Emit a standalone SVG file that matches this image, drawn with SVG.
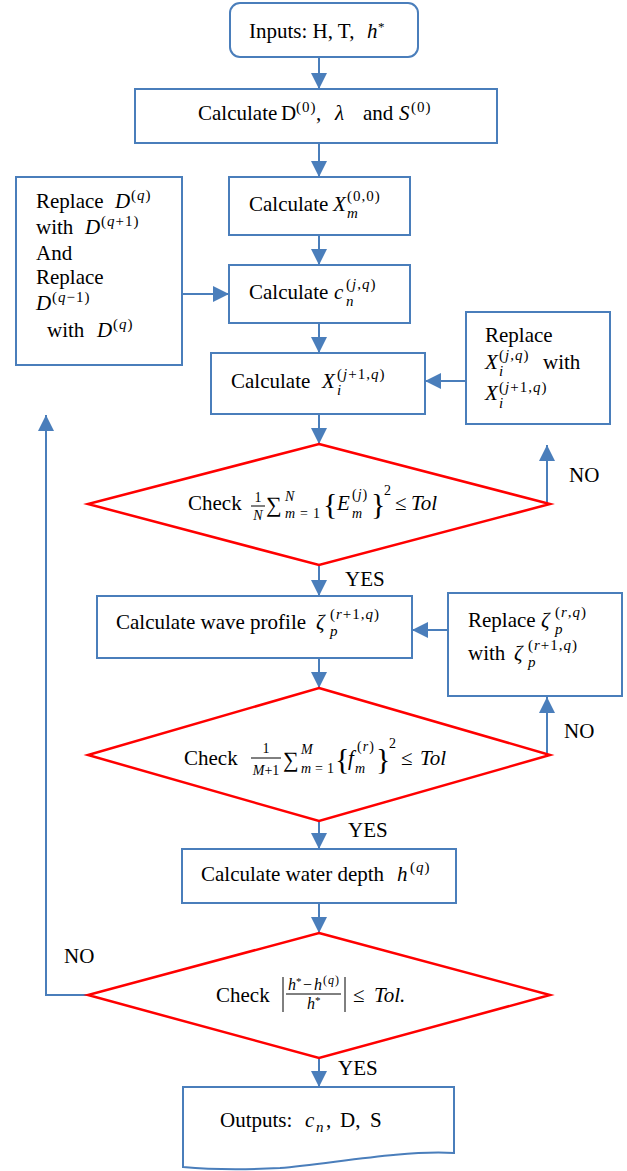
<svg xmlns="http://www.w3.org/2000/svg" width="627" height="1171" viewBox="0 0 627 1171">
<defs>
<marker id="ah" markerUnits="userSpaceOnUse" markerWidth="16" markerHeight="16" refX="16" refY="8" orient="auto">
<path d="M0,0 L16,8 L0,16 z" fill="#4A7EBB"/>
</marker>
<style>
.box{fill:#fff;stroke:#4A7EBB;stroke-width:2}
.dia{fill:#fff;stroke:#FF0000;stroke-width:2.5}
.arr{fill:none;stroke:#4A7EBB;stroke-width:2;marker-end:url(#ah)}
.t{font-family:"Liberation Serif","Times New Roman",serif;font-size:21px;fill:#000}
.i{font-style:italic}
.s{font-size:15px;letter-spacing:1px}
.xs{font-size:14px}
.sg{font-size:22px}
.br{font-size:30px}
.bar{stroke:#000;stroke-width:1}
</style>
</defs>
<rect width="627" height="1171" fill="#fff"/>

<g id="connectors">
<line class="arr" x1="319" y1="57" x2="319" y2="89"/>
<line class="arr" x1="319" y1="143" x2="319" y2="177"/>
<line class="arr" x1="319" y1="235" x2="319" y2="265"/>
<line class="arr" x1="319" y1="323" x2="319" y2="353"/>
<line class="arr" x1="319" y1="414" x2="319" y2="444"/>
<line class="arr" x1="319" y1="565" x2="319" y2="596"/>
<line class="arr" x1="319" y1="658" x2="319" y2="688"/>
<line class="arr" x1="319" y1="821" x2="319" y2="849"/>
<line class="arr" x1="319" y1="903" x2="319" y2="933"/>
<line class="arr" x1="319" y1="1058" x2="319" y2="1087"/>
<line class="arr" x1="182" y1="294" x2="229" y2="294"/>
<line class="arr" x1="466" y1="381" x2="425" y2="381"/>
<line class="arr" x1="448" y1="630" x2="412" y2="630"/>
<line class="arr" x1="547" y1="504" x2="547" y2="445"/>
<line class="arr" x1="547" y1="755" x2="547" y2="697"/>
<polyline class="arr" points="88,995 46,995 46,415"/>
<text class="t" x="569" y="482">NO</text>
<text class="t" x="345" y="586">YES</text>
<text class="t" x="564" y="738">NO</text>
<text class="t" x="348" y="837">YES</text>
<text class="t" x="64" y="963">NO</text>
<text class="t" x="338" y="1075">YES</text>
</g>

<g id="inputs">
<rect class="box" x="230" y="3" width="188" height="54" rx="10"/>
<text class="t" x="249" y="38">Inputs: H, T,</text>
<text class="t i" x="367" y="38">h</text>
<text class="t" x="378" y="31" style="font-size:13px">*</text>
</g>

<g id="calc-d">
<rect class="box" x="135" y="89" width="362" height="54"/>
<text class="t" x="198" y="120">Calculate</text>
<text class="t" x="281" y="120">D</text>
<text class="t s" x="296" y="112">(0)</text>
<text class="t" x="316" y="120">,</text>
<text class="t i" x="335" y="120">λ</text>
<text class="t" x="363" y="120">and</text>
<text class="t i" x="399" y="120">S</text>
<text class="t s" x="411" y="112">(0)</text>
</g>

<g id="calc-xm">
<rect class="box" x="229" y="177" width="181" height="58"/>
<text class="t" x="249" y="211">Calculate</text>
<text class="t i" x="333" y="211">X</text>
<text class="t s" x="347" y="201">(0,0)</text>
<text class="t s i" x="347" y="218">m</text>
</g>

<g id="calc-cn">
<rect class="box" x="229" y="265" width="181" height="58"/>
<text class="t" x="249" y="299">Calculate</text>
<text class="t i" x="334" y="299">c</text>
<text class="t s" x="346" y="289">(<tspan class="i">j</tspan>,<tspan class="i">q</tspan>)</text>
<text class="t s i" x="346" y="306">n</text>
</g>

<g id="replace-d">
<rect class="box" x="16" y="177" width="166" height="188"/>
<text class="t" x="36" y="208">Replace</text>
<text class="t i" x="115" y="208">D</text>
<text class="t s" x="131" y="200">(<tspan class="i">q</tspan>)</text>
<text class="t" x="36" y="234">with</text>
<text class="t i" x="85" y="234">D</text>
<text class="t s" x="101" y="226">(<tspan class="i">q</tspan>+1)</text>
<text class="t" x="36" y="260">And</text>
<text class="t" x="36" y="284">Replace</text>
<text class="t i" x="36" y="310">D</text>
<text class="t s" x="52" y="302">(<tspan class="i">q</tspan>−1)</text>
<text class="t" x="47" y="337">with</text>
<text class="t i" x="97" y="337">D</text>
<text class="t s" x="113" y="329">(<tspan class="i">q</tspan>)</text>
</g>

<g id="calc-xi">
<rect class="box" x="211" y="353" width="214" height="61"/>
<text class="t" x="231" y="388">Calculate</text>
<text class="t i" x="322" y="388">X</text>
<text class="t s" x="337" y="379">(<tspan class="i">j</tspan>+1,<tspan class="i">q</tspan>)</text>
<text class="t s i" x="337" y="395">i</text>
</g>

<g id="replace-x">
<rect class="box" x="466" y="312" width="144" height="112"/>
<text class="t" x="485" y="342">Replace</text>
<text class="t i" x="485" y="369">X</text>
<text class="t s" x="499" y="360">(<tspan class="i">j</tspan>,<tspan class="i">q</tspan>)</text>
<text class="t s i" x="499" y="376">i</text>
<text class="t" x="543" y="369">with</text>
<text class="t i" x="485" y="400">X</text>
<text class="t s" x="499" y="392">(<tspan class="i">j</tspan>+1,<tspan class="i">q</tspan>)</text>
<text class="t s i" x="499" y="408">i</text>
</g>

<g id="check-e">
<polygon class="dia" points="319,444 550,504 319,565 88,504"/>
<text class="t" x="188" y="510">Check</text>
<text class="t xs" x="258" y="502" text-anchor="middle">1</text>
<line class="bar" x1="251" y1="506" x2="265" y2="506"/>
<text class="t xs i" x="258" y="520" text-anchor="middle">N</text>
<text class="t sg" x="266" y="512">∑</text>
<text class="t xs i" x="285" y="501">N</text>
<text class="t xs i" x="285" y="518">m</text>
<text class="t xs" x="300" y="518">=</text>
<text class="t xs" x="313" y="518">1</text>
<text class="t br" x="323" y="514">{</text>
<text class="t i" x="337" y="510">E</text>
<text class="t xs" x="352" y="499" style="letter-spacing:1px">(<tspan class="i">j</tspan>)</text>
<text class="t xs i" x="352" y="518">m</text>
<text class="t br" x="371" y="514">}</text>
<text class="t xs" x="384" y="495">2</text>
<text class="t" x="395" y="510">≤</text>
<text class="t i" x="411" y="510">Tol</text>
</g>

<g id="calc-wave">
<rect class="box" x="97" y="596" width="315" height="62"/>
<text class="t" x="116" y="629">Calculate wave profile</text>
<text class="t i" x="316" y="629">ζ</text>
<text class="t s" x="330" y="619">(<tspan class="i">r</tspan>+1,<tspan class="i">q</tspan>)</text>
<text class="t s i" x="330" y="636">p</text>
</g>

<g id="replace-zeta">
<rect class="box" x="448" y="593" width="174" height="103"/>
<text class="t" x="468" y="627">Replace</text>
<text class="t i" x="541" y="627">ζ</text>
<text class="t s" x="555" y="617">(<tspan class="i">r</tspan>,<tspan class="i">q</tspan>)</text>
<text class="t s i" x="555" y="634">p</text>
<text class="t" x="468" y="660">with</text>
<text class="t i" x="514" y="660">ζ</text>
<text class="t s" x="528" y="650">(<tspan class="i">r</tspan>+1,<tspan class="i">q</tspan>)</text>
<text class="t s i" x="528" y="667">p</text>
</g>

<g id="check-f">
<polygon class="dia" points="319,688 550,755 319,821 88,755"/>
<text class="t" x="184" y="765">Check</text>
<text class="t xs" x="266" y="753" text-anchor="middle">1</text>
<line class="bar" x1="251" y1="758" x2="281" y2="758"/>
<text class="t xs" x="266" y="775" text-anchor="middle"><tspan class="i">M</tspan>+1</text>
<text class="t sg" x="283" y="767">∑</text>
<text class="t xs i" x="301" y="754">M</text>
<text class="t xs i" x="301" y="773">m</text>
<text class="t xs" x="315" y="773">=</text>
<text class="t xs" x="327" y="773">1</text>
<text class="t br" x="335" y="769">{</text>
<text class="t i" x="348" y="765">f</text>
<text class="t xs" x="357" y="751" style="letter-spacing:1px">(<tspan class="i">r</tspan>)</text>
<text class="t xs i" x="355" y="773">m</text>
<text class="t br" x="376" y="769">}</text>
<text class="t xs" x="389" y="748">2</text>
<text class="t" x="401" y="765">≤</text>
<text class="t i" x="420" y="765">Tol</text>
</g>

<g id="calc-h">
<rect class="box" x="182" y="849" width="274" height="54"/>
<text class="t" x="201" y="881">Calculate water depth</text>
<text class="t i" x="397" y="881">h</text>
<text class="t s" x="410" y="872">(<tspan class="i">q</tspan>)</text>
</g>

<g id="check-h">
<polygon class="dia" points="319,933 550,995 319,1058 88,995"/>
<text class="t" x="216" y="1002">Check</text>
<line class="bar" x1="283" y1="977" x2="283" y2="1012"/>
<text class="t i" x="288" y="990" style="font-size:16px">h</text>
<text class="t" x="296" y="985" style="font-size:11px">*</text>
<text class="t" x="303" y="990" style="font-size:16px">−</text>
<text class="t i" x="314" y="990" style="font-size:16px">h</text>
<text class="t" x="323" y="984" style="font-size:12px;letter-spacing:1px">(<tspan class="i">q</tspan>)</text>
<line class="bar" x1="286" y1="994" x2="341" y2="994"/>
<text class="t i" x="307" y="1009" style="font-size:16px">h</text>
<text class="t" x="315" y="1004" style="font-size:11px">*</text>
<line class="bar" x1="345" y1="977" x2="345" y2="1012"/>
<text class="t" x="353" y="1002">≤</text>
<text class="t i" x="374" y="1002">Tol.</text>
</g>

<g id="outputs">
<path class="box" d="M183,1087 H454 V1153 C400,1150 330,1164 280,1168 C240,1170 205,1169 183,1167 Z"/>
<text class="t" x="220" y="1127">Outputs:</text>
<text class="t i" x="305" y="1127">c</text>
<text class="t s i" x="316" y="1132">n</text>
<text class="t" x="326" y="1127">,</text>
<text class="t" x="340" y="1127">D,</text>
<text class="t" x="370" y="1127">S</text>
</g>
</svg>
